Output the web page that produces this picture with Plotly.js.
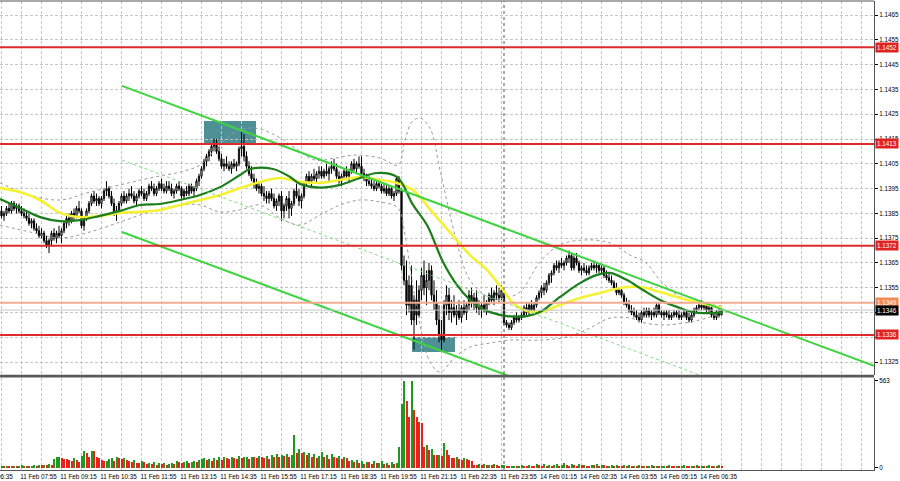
<!DOCTYPE html>
<html><head><meta charset="utf-8">
<script src="https://cdn.plot.ly/plotly-3.0.1.min.js"></script>
<style>html,body{margin:0;padding:0;background:#fff;}#chart{width:900px;height:481px;}</style>
</head><body><div id="chart"></div>
<script>
// ---- EURUSD M5 candles, bars numbered from the first visible bar (-8) to the last (280) ----
const firstBar = -8;
const open = [
1.1386,1.1384,1.1385,1.1387,1.1386,1.1389,1.1387,1.1388,1.1386,1.1385,
1.1384,1.1383,1.1381,1.1382,1.1379,1.1378,1.1376,1.1377,1.1374,1.1372,
1.1374,1.1377,1.1375,1.1377,1.1376,1.1378,1.1381,1.1383,1.1382,1.1385,
1.1384,1.1387,1.1386,1.1380,1.1383,1.1386,1.1389,1.1392,1.1390,1.1391,
1.1389,1.1391,1.1394,1.1395,1.1392,1.1389,1.1385,1.1386,1.1389,1.1392,
1.1390,1.1392,1.1393,1.1392,1.1390,1.1392,1.1394,1.1393,1.1391,1.1393,
1.1396,1.1395,1.1393,1.1395,1.1397,1.1395,1.1394,1.1396,1.1395,1.1393,
1.1394,1.1396,1.1395,1.1392,1.1394,1.1393,1.1396,1.1394,1.1395,1.1398,
1.1400,1.1403,1.1406,1.1408,1.1410,1.1412,1.1413,1.1410,1.1407,1.1404,
1.1405,1.1404,1.1403,1.1405,1.1404,1.1405,1.1411,1.1412,1.1408,1.1404,
1.1401,1.1399,1.1397,1.1395,1.1396,1.1393,1.1392,1.1391,1.1393,1.1391,
1.1388,1.1390,1.1392,1.1386,1.1388,1.1391,1.1387,1.1389,1.1394,1.1392,
1.1390,1.1392,1.1397,1.1400,1.1398,1.1400,1.1399,1.1401,1.1402,1.1400,
1.1402,1.1401,1.1403,1.1404,1.1403,1.1400,1.1398,1.1400,1.1402,1.1400,
1.1402,1.1405,1.1403,1.1405,1.1404,1.1401,1.1399,1.1398,1.1397,1.1396,
1.1395,1.1397,1.1396,1.1394,1.1395,1.1393,1.1395,1.1392,1.1393,1.1399,
1.1394,1.1364,1.1358,1.1348,1.1356,1.1342,1.1350,1.1344,1.1354,1.1360,
1.1355,1.1358,1.1362,1.1352,1.1349,1.1342,1.1336,1.1334,1.1348,1.1352,
1.1345,1.1347,1.1344,1.1346,1.1343,1.1347,1.1345,1.1348,1.1352,1.1349,
1.1351,1.1347,1.1346,1.1348,1.1346,1.1349,1.1352,1.1350,1.1353,1.1352,
1.1351,1.1353,1.1341,1.1340,1.1339,1.1341,1.1343,1.1342,1.1343,1.1344,
1.1347,1.1345,1.1348,1.1346,1.1348,1.1351,1.1353,1.1355,1.1354,1.1357,
1.1360,1.1361,1.1364,1.1363,1.1365,1.1364,1.1365,1.1367,1.1368,1.1363,
1.1367,1.1365,1.1362,1.1363,1.1362,1.1361,1.1363,1.1364,1.1363,1.1364,
1.1362,1.1363,1.1360,1.1359,1.1358,1.1357,1.1355,1.1353,1.1354,1.1352,
1.1349,1.1348,1.1346,1.1345,1.1344,1.1343,1.1342,1.1345,1.1344,1.1346,
1.1344,1.1345,1.1344,1.1348,1.1345,1.1344,1.1345,1.1344,1.1343,1.1344,
1.1345,1.1344,1.1343,1.1344,1.1345,1.1343,1.1342,1.1344,1.1346,1.1347,
1.1348,1.1347,1.1348,1.1346,1.1347,1.1344,1.1343,1.1345,1.1344];
const high = [
1.1388,1.1386,1.1388,1.1389,1.1390,1.1390,1.1389,1.1389,1.1388,1.1387,
1.1386,1.1385,1.1383,1.1383,1.1381,1.1380,1.1379,1.1378,1.1376,1.1375,
1.1378,1.1379,1.1378,1.1380,1.1379,1.1382,1.1384,1.1385,1.1386,1.1387,
1.1388,1.1390,1.1387,1.1384,1.1387,1.1390,1.1393,1.1394,1.1393,1.1392,
1.1392,1.1395,1.1398,1.1396,1.1394,1.1391,1.1388,1.1390,1.1393,1.1394,
1.1393,1.1395,1.1396,1.1394,1.1393,1.1395,1.1396,1.1395,1.1394,1.1397,
1.1398,1.1397,1.1396,1.1398,1.1399,1.1397,1.1398,1.1398,1.1397,1.1395,
1.1397,1.1398,1.1396,1.1395,1.1396,1.1397,1.1397,1.1396,1.1399,1.1401,
1.1404,1.1407,1.1409,1.1411,1.1413,1.1415,1.1415,1.1412,1.1409,1.1407,
1.1408,1.1406,1.1406,1.1407,1.1406,1.1412,1.1418,1.1417,1.1410,1.1406,
1.1404,1.1401,1.1399,1.1398,1.1397,1.1396,1.1394,1.1394,1.1395,1.1393,
1.1391,1.1393,1.1394,1.1389,1.1392,1.1394,1.1390,1.1395,1.1397,1.1395,
1.1393,1.1398,1.1401,1.1402,1.1401,1.1403,1.1402,1.1404,1.1404,1.1403,
1.1405,1.1404,1.1406,1.1407,1.1405,1.1402,1.1401,1.1403,1.1404,1.1403,
1.1406,1.1407,1.1406,1.1408,1.1408,1.1403,1.1401,1.1400,1.1399,1.1398,
1.1398,1.1399,1.1397,1.1397,1.1397,1.1396,1.1396,1.1394,1.1400,1.1400,
1.1395,1.1368,1.1366,1.1360,1.1364,1.1352,1.1358,1.1356,1.1363,1.1366,
1.1362,1.1365,1.1364,1.1358,1.1354,1.1348,1.1342,1.1350,1.1356,1.1355,
1.1350,1.1352,1.1348,1.1350,1.1348,1.1350,1.1349,1.1354,1.1355,1.1353,
1.1354,1.1350,1.1349,1.1352,1.1350,1.1353,1.1355,1.1354,1.1356,1.1355,
1.1356,1.1354,1.1342,1.1341,1.1342,1.1344,1.1345,1.1344,1.1345,1.1348,
1.1349,1.1349,1.1350,1.1349,1.1352,1.1354,1.1356,1.1357,1.1358,1.1361,
1.1362,1.1365,1.1366,1.1366,1.1367,1.1366,1.1368,1.1370,1.1369,1.1368,
1.1369,1.1366,1.1364,1.1365,1.1364,1.1364,1.1365,1.1366,1.1365,1.1365,
1.1364,1.1364,1.1362,1.1361,1.1360,1.1358,1.1357,1.1355,1.1355,1.1353,
1.1351,1.1350,1.1348,1.1347,1.1346,1.1345,1.1346,1.1347,1.1347,1.1347,
1.1346,1.1347,1.1349,1.1349,1.1346,1.1346,1.1346,1.1346,1.1345,1.1346,
1.1346,1.1346,1.1345,1.1346,1.1346,1.1345,1.1345,1.1347,1.1348,1.1349,
1.1350,1.1349,1.1349,1.1348,1.1348,1.1345,1.1346,1.1347,1.1347];
const low = [
1.1383,1.1382,1.1384,1.1385,1.1385,1.1386,1.1385,1.1385,1.1384,1.1383,
1.1382,1.1380,1.1379,1.1378,1.1377,1.1375,1.1375,1.1373,1.1371,1.1369,
1.1372,1.1374,1.1373,1.1375,1.1373,1.1377,1.1379,1.1380,1.1381,1.1382,
1.1383,1.1385,1.1379,1.1378,1.1382,1.1385,1.1388,1.1389,1.1388,1.1388,
1.1387,1.1390,1.1392,1.1391,1.1388,1.1384,1.1382,1.1385,1.1388,1.1389,
1.1389,1.1390,1.1391,1.1389,1.1388,1.1391,1.1392,1.1390,1.1390,1.1392,
1.1394,1.1392,1.1392,1.1394,1.1394,1.1393,1.1393,1.1394,1.1392,1.1391,
1.1393,1.1394,1.1391,1.1391,1.1392,1.1392,1.1393,1.1392,1.1394,1.1396,
1.1399,1.1402,1.1404,1.1406,1.1408,1.1410,1.1409,1.1406,1.1403,1.1402,
1.1403,1.1402,1.1401,1.1403,1.1402,1.1404,1.1408,1.1406,1.1403,1.1400,
1.1398,1.1395,1.1394,1.1393,1.1392,1.1390,1.1389,1.1389,1.1390,1.1387,
1.1386,1.1388,1.1382,1.1383,1.1386,1.1383,1.1384,1.1388,1.1391,1.1388,
1.1387,1.1391,1.1396,1.1397,1.1396,1.1398,1.1397,1.1399,1.1399,1.1399,
1.1400,1.1398,1.1401,1.1402,1.1399,1.1397,1.1396,1.1399,1.1399,1.1398,
1.1401,1.1402,1.1401,1.1403,1.1400,1.1398,1.1396,1.1396,1.1395,1.1394,
1.1394,1.1395,1.1393,1.1393,1.1392,1.1392,1.1391,1.1390,1.1392,1.1393,
1.1362,1.1356,1.1344,1.1345,1.1340,1.1330,1.1340,1.1343,1.1350,1.1352,
1.1348,1.1354,1.1350,1.1346,1.1340,1.1333,1.1330,1.1333,1.1344,1.1342,
1.1341,1.1343,1.1340,1.1342,1.1341,1.1344,1.1342,1.1346,1.1347,1.1346,
1.1345,1.1344,1.1343,1.1345,1.1344,1.1348,1.1349,1.1348,1.1350,1.1349,
1.1350,1.1340,1.1339,1.1338,1.1338,1.1340,1.1341,1.1341,1.1342,1.1343,
1.1344,1.1344,1.1345,1.1344,1.1347,1.1350,1.1351,1.1352,1.1353,1.1356,
1.1357,1.1360,1.1362,1.1361,1.1363,1.1362,1.1364,1.1365,1.1362,1.1362,
1.1364,1.1361,1.1360,1.1361,1.1360,1.1360,1.1362,1.1362,1.1361,1.1361,
1.1361,1.1359,1.1358,1.1357,1.1356,1.1354,1.1352,1.1352,1.1351,1.1348,
1.1347,1.1345,1.1344,1.1343,1.1342,1.1341,1.1341,1.1343,1.1343,1.1343,
1.1342,1.1343,1.1343,1.1344,1.1343,1.1342,1.1343,1.1342,1.1342,1.1343,
1.1343,1.1342,1.1342,1.1343,1.1342,1.1341,1.1341,1.1343,1.1345,1.1346,
1.1346,1.1346,1.1345,1.1345,1.1343,1.1342,1.1342,1.1343,1.1344];
const close = [
1.1384,1.1385,1.1387,1.1386,1.1389,1.1387,1.1388,1.1386,1.1385,1.1384,
1.1383,1.1381,1.1382,1.1379,1.1378,1.1376,1.1377,1.1374,1.1372,1.1374,
1.1377,1.1375,1.1377,1.1376,1.1378,1.1381,1.1383,1.1382,1.1385,1.1384,
1.1387,1.1386,1.1380,1.1383,1.1386,1.1389,1.1392,1.1390,1.1391,1.1389,
1.1391,1.1394,1.1395,1.1392,1.1389,1.1385,1.1386,1.1389,1.1392,1.1390,
1.1392,1.1393,1.1392,1.1390,1.1392,1.1394,1.1393,1.1391,1.1393,1.1396,
1.1395,1.1393,1.1395,1.1397,1.1395,1.1394,1.1396,1.1395,1.1393,1.1394,
1.1396,1.1395,1.1392,1.1394,1.1393,1.1396,1.1394,1.1395,1.1398,1.1400,
1.1403,1.1406,1.1408,1.1410,1.1412,1.1413,1.1410,1.1407,1.1404,1.1405,
1.1404,1.1403,1.1405,1.1404,1.1405,1.1411,1.1412,1.1408,1.1404,1.1401,
1.1399,1.1397,1.1395,1.1396,1.1393,1.1392,1.1391,1.1393,1.1391,1.1388,
1.1390,1.1392,1.1386,1.1388,1.1391,1.1387,1.1389,1.1394,1.1392,1.1390,
1.1392,1.1397,1.1400,1.1398,1.1400,1.1399,1.1401,1.1402,1.1400,1.1402,
1.1401,1.1403,1.1404,1.1403,1.1400,1.1398,1.1400,1.1402,1.1400,1.1402,
1.1405,1.1403,1.1405,1.1404,1.1401,1.1399,1.1398,1.1397,1.1396,1.1395,
1.1397,1.1396,1.1394,1.1395,1.1393,1.1395,1.1392,1.1393,1.1399,1.1394,
1.1364,1.1358,1.1348,1.1356,1.1342,1.1350,1.1344,1.1354,1.1360,1.1355,
1.1358,1.1362,1.1352,1.1349,1.1342,1.1336,1.1334,1.1348,1.1352,1.1345,
1.1347,1.1344,1.1346,1.1343,1.1347,1.1345,1.1348,1.1352,1.1349,1.1351,
1.1347,1.1346,1.1348,1.1346,1.1349,1.1352,1.1350,1.1353,1.1352,1.1351,
1.1354,1.1341,1.1340,1.1339,1.1341,1.1343,1.1342,1.1343,1.1344,1.1347,
1.1345,1.1348,1.1346,1.1348,1.1351,1.1353,1.1355,1.1354,1.1357,1.1360,
1.1361,1.1364,1.1363,1.1365,1.1364,1.1365,1.1367,1.1368,1.1363,1.1367,
1.1365,1.1362,1.1363,1.1362,1.1361,1.1363,1.1364,1.1363,1.1364,1.1362,
1.1363,1.1360,1.1359,1.1358,1.1357,1.1355,1.1353,1.1354,1.1352,1.1349,
1.1348,1.1346,1.1345,1.1344,1.1343,1.1342,1.1345,1.1344,1.1346,1.1344,
1.1345,1.1344,1.1348,1.1345,1.1344,1.1345,1.1344,1.1343,1.1344,1.1345,
1.1344,1.1343,1.1344,1.1345,1.1343,1.1342,1.1344,1.1346,1.1347,1.1348,
1.1347,1.1348,1.1346,1.1347,1.1344,1.1343,1.1345,1.1344,1.1346];
const volume = [
12,10,14,11,9,13,10,12,15,11,14,10,13,16,12,18,15,20,17,22,19,
58,68,72,64,58,53,47,41,64,51,36,75,110,94,72,108,106,68,64,47,41,42,58,62,45,72,64,55,64,48,
40,35,52,30,28,45,38,22,30,25,35,20,28,24,32,18,26,30,22,40,35,28,38,44,30,36,42,34,
48,55,62,50,58,45,60,52,66,48,70,62,55,72,64,58,75,60,68,70,56,72,66,62,78,70,64,74,58,80,
72,86,70,82,76,90,68,84,210,96,
118,92,104,85,96,70,88,62,74,100,66,82,58,90,70,64,78,56,72,60,
44,52,38,48,30,42,26,36,34,22,40,28,32,46,24,30,20,34,26,30,
135,410,563,430,330,560,370,330,295,292,135,148,115,122,85,80,82,78,160,115,85,65,60,70,55,50,62,58,50,45,20,18,25,15,22,18,20,15,24,18,12,16,
20,12,8,10,14,9,12,16,11,8,18,13,10,22,15,12,26,14,19,12,16,24,13,20,28,17,14,22,18,12,
25,16,20,14,11,18,15,22,12,19,16,10,14,20,11,17,13,9,15,12,18,10,14,8,16,11,13,9,12,15,
10,14,8,11,13,9,16,12,10,14,8,12,15,11,9,13,10,17,12,14,9,11,15,10,13,12,16,14];

// ---- time axis labels (bar number of each label) ----
const labelBars = [-16,0,16,32,48,64,80,96,112,128,144,160,176,192,208,224,240,256,272];
const labelText = ["11 Feb 06:35","11 Feb 07:55","11 Feb 09:15","11 Feb 10:35","11 Feb 11:55","11 Feb 13:15",
 "11 Feb 14:35","11 Feb 15:55","11 Feb 17:15","11 Feb 18:35","11 Feb 19:55","11 Feb 21:15","11 Feb 22:35",
 "11 Feb 23:55","14 Feb 01:15","14 Feb 02:35","14 Feb 03:55","14 Feb 05:15","14 Feb 06:35"];
const weekStartBar = 193;

// ---- price scale ticks (1.1335 sits under the 1.1336 level tag) ----
const priceTicks = [1.1325,1.1335,1.1345,1.1355,1.1365,1.1375,1.1385,1.1395,1.1405,1.1415,1.1425,1.1435,1.1445,1.1455,1.1465];
const priceTickText = ["1.1325","","1.1345","1.1355","1.1365","1.1375","1.1385","1.1395","1.1405","1.1415","1.1425","1.1435","1.1445","1.1455","1.1465"];
const volumeTicks = [0,563];

// ---- moving averages (read at sample bars) ----
const maFastBars = [-8.6,-0.6,7.4,15.4,23.4,31.4,39.4,47.4,55.4,63.4,71.4,79.4,87.4,91.4,100.6,107.4,111.4,119.4,127.4,135.4,142.2,150.2,156.6,162.2,168.6,174.2,179.4,183.4,187.4,194.2,202.2,207.4,215.4,223.4,230.2,235.4,242.2,248.6,255.4,262.2,268.6,274.2,280.6];
const maFast = [1.13908,1.13872,1.13835,1.13819,1.13823,1.13840,1.13860,1.13884,1.13888,1.13904,1.13924,1.13956,1.14005,1.14029,1.14029,1.13997,1.13969,1.13954,1.13965,1.13993,1.14013,1.13997,1.13884,1.13803,1.13654,1.13561,1.13501,1.13469,1.13452,1.13436,1.13436,1.13452,1.13513,1.13569,1.13602,1.13610,1.13581,1.13541,1.13501,1.13473,1.13452,1.13448,1.13452];
const maSlowBars = [-8.6,-0.6,7.4,15.4,23.4,31.4,39.4,47.4,55.4,63.4,71.4,79.4,87.4,95.4,103.4,111.4,119.4,127.4,135.4,143.4,150.2,156.6,164.6,172.6,179.4,186.2,191.4,196.6,202.2,207.4,215.4,223.4,231.4,239.4,247.4,255.4,263.4,271.4,280.2];
const maSlow = [1.13952,1.13936,1.13904,1.13852,1.13835,1.13840,1.13852,1.13856,1.13864,1.13884,1.13904,1.13924,1.13952,1.13977,1.13993,1.13977,1.13973,1.13985,1.13997,1.13985,1.13973,1.13944,1.13852,1.13759,1.13682,1.13622,1.13557,1.13489,1.13456,1.13452,1.13481,1.13509,1.13529,1.13549,1.13553,1.13533,1.13509,1.13489,1.13469];

// ---- envelope bands (read at sample bars) ----
const bandUpBars = [-8.6,3.4,15.4,27.4,39.4,51.4,63.4,71.4,77.4,85.4,93.4,101.4,109.4,117.4,125.4,133.4,143.4,150.6,153.4,156.2,159.4,163.4,167.4,173.4,179.4,187.4,193.4,199.4,207.4,215.4,225.4,235.4,243.4,249.4,255.4,263.4,271.4,280.2];
const bandUp = [1.13973,1.13924,1.13904,1.13936,1.13965,1.13993,1.14017,1.14045,1.14106,1.14178,1.14194,1.14166,1.14114,1.14065,1.14073,1.14085,1.14073,1.14045,1.14146,1.14219,1.14235,1.14194,1.14025,1.13763,1.13581,1.13509,1.13509,1.13533,1.13654,1.13723,1.13743,1.13731,1.13682,1.13654,1.13581,1.13513,1.13489,1.13477];
const bandLoBars = [-8.6,3.4,15.4,27.4,39.4,51.4,63.4,71.4,79.4,87.4,95.4,103.4,111.4,119.4,127.4,135.4,143.4,150.6,153.4,156.2,159.4,163.4,167.4,173.4,179.4,187.4,195.4,207.4,218.2,227.4,235.4,243.4,249.4,257.4,267.4,275.4,280.2];
const bandLo = [1.13803,1.13775,1.13751,1.13775,1.13815,1.13856,1.13884,1.13884,1.13856,1.13864,1.13884,1.13831,1.13803,1.13844,1.13884,1.13904,1.13896,1.13872,1.13763,1.13581,1.13400,1.13251,1.13210,1.13271,1.13311,1.13327,1.13339,1.13339,1.13352,1.13388,1.13428,1.13428,1.13408,1.13400,1.13412,1.13432,1.13452];

// ---- descending channel (anchor bars and prices) ----
const channelBars = [40.2, 341];
const channelUpper = [1.14364, 1.13235];
const channelMid = [1.14065, 1.12936];
const channelLower = [1.13775, 1.12646];

// ---- horizontal levels and zones ----
const resistLevels = [1.1452, 1.1413, 1.1372, 1.1336];
const markLevel = 1.1349;
const bidLevel = 1.1346;
const zoneBarsFrom = [73, 156.2], zoneBarsTo = [93.8, 173.4];
const zonePriceLo = [1.14134, 1.13291], zonePriceHi = [1.14223, 1.13352];

// ---------------- build ----------------
const bars = open.map((_, k) => firstBar + k);
const volColors = volume.map((v, k) => (k === 0 || v > volume[k - 1]) ? '#1f9a1f' : '#e8231c');
const xr = [-8.6, 341];
const gridBars = [];
for (let b = -8; b <= 340; b += 8) gridBars.push(b);
const gridText = gridBars.map(b => { const j = labelBars.indexOf(b); return j >= 0 ? labelText[j] : ''; });

const FONT = 'Liberation Sans, Arial, sans-serif';
const traces = [
  {type:'scatter', mode:'lines', x:bandUpBars, y:bandUp, line:{color:'#9a9a9a', width:1, dash:'dot', shape:'spline'}, hoverinfo:'skip'},
  {type:'scatter', mode:'lines', x:bandLoBars, y:bandLo, line:{color:'#9a9a9a', width:1, dash:'dot', shape:'spline'}, hoverinfo:'skip'},
  {type:'candlestick', x:bars, open:open, high:high, low:low, close:close,
   increasing:{line:{color:'#000', width:1}, fillcolor:'#ffffff'},
   decreasing:{line:{color:'#000', width:1}, fillcolor:'#000000'},
   whiskerwidth:0, hoverinfo:'skip', xaxis:'x', yaxis:'y'},
  {type:'scatter', mode:'lines', x:maSlowBars, y:maSlow, line:{color:'#f4f232', width:2.6, shape:'spline'}, hoverinfo:'skip'},
  {type:'scatter', mode:'lines', x:maFastBars, y:maFast, line:{color:'#1b7d1b', width:2.2, shape:'spline'}, hoverinfo:'skip'},
  {type:'scatter', mode:'lines', x:channelBars, y:channelMid, line:{color:'#7fdc7f', width:1, dash:'dot'}, hoverinfo:'skip'},
  {type:'scatter', mode:'lines', x:channelBars, y:channelUpper, line:{color:'#3fd43f', width:2}, hoverinfo:'skip'},
  {type:'scatter', mode:'lines', x:channelBars, y:channelLower, line:{color:'#3fd43f', width:2}, hoverinfo:'skip'},
  {type:'bar', x:bars, y:volume, marker:{color:volColors, line:{width:0}}, width:0.8, xaxis:'x', yaxis:'y2', hoverinfo:'skip'}
];

const shapes = [];
zoneBarsFrom.forEach((b, k) => shapes.push({type:'rect', xref:'x', yref:'y', x0:b, x1:zoneBarsTo[k], y0:zonePriceLo[k], y1:zonePriceHi[k], fillcolor:'#4f9096', line:{width:0}, layer:'below'}));
resistLevels.forEach(p => shapes.push({type:'line', xref:'paper', yref:'y', x0:0, x1:1, y0:p, y1:p, line:{color:'#dd2b2b', width:2}}));
shapes.push({type:'line', xref:'paper', yref:'y', x0:0, x1:1, y0:markLevel, y1:markLevel, line:{color:'#f4ab92', width:2}});
shapes.push({type:'line', xref:'paper', yref:'y', x0:0, x1:1, y0:bidLevel, y1:bidLevel, line:{color:'#c4c4c4', width:1}});
shapes.push({type:'line', xref:'x', yref:'paper', x0:weekStartBar, x1:weekStartBar, y0:0, y1:1, line:{color:'#555', width:1, dash:'dot'}});
shapes.push({type:'line', xref:'paper', yref:'paper', x0:0, x1:1, y0:0.2001, y1:0.2001, line:{color:'#5a5a5a', width:2.6}});
shapes.push({type:'line', xref:'paper', yref:'paper', x0:0, x1:1, y0:1, y1:1, line:{color:'#555', width:1}});

const annotations = [];
const tag = (p, bg) => ({xref:'paper', yref:'y', x:1, y:p, xanchor:'left', yanchor:'middle', xshift:1,
  text:p.toFixed(4), showarrow:false, bgcolor:bg, borderpad:1, font:{family:FONT, size:6.3, color:'#fff'}});
resistLevels.forEach(p => annotations.push(tag(p, '#e02222')));
annotations.push(tag(markLevel, '#f08a55'));
annotations.push(tag(bidLevel, '#000000'));
// first time label: only its tail shows at the left edge
annotations.push({xref:'paper', yref:'paper', x:0, y:0, xanchor:'right', yanchor:'top', xshift:15, yshift:-1,
  text:labelText[0], showarrow:false, font:{family:FONT, size:6.3, color:'#000'}});

const gridStyle = {showgrid:true, gridcolor:'#c6c6c6', gridwidth:1, griddash:'3px,2px'};
const layout = {
  width:900, height:481, margin:{l:0, r:26, t:1, b:11},
  paper_bgcolor:'#fff', plot_bgcolor:'#fff', showlegend:false,
  font:{family:FONT, size:6.3, color:'#000'},
  xaxis:Object.assign({range:xr, anchor:'y2', rangeslider:{visible:false}, tickmode:'array', tickvals:gridBars, ticktext:gridText,
    ticks:'', ticklabelshift:17, tickangle:0, showline:true, linecolor:'#555', linewidth:1, zeroline:false, fixedrange:true,
    tickfont:{family:FONT, size:6.3, color:'#000'}}, gridStyle),
  yaxis:Object.assign({domain:[0.2026, 1], range:[1.131984, 1.147065], side:'right', anchor:'x', tickmode:'array',
    tickvals:priceTicks, ticktext:priceTickText, ticks:'outside', ticklen:3, tickcolor:'#000',
    showline:true, linecolor:'#555', linewidth:1, zeroline:false, fixedrange:true,
    tickfont:{family:FONT, size:6.3, color:'#000'}}, gridStyle),
  yaxis2:{domain:[0, 0.1962], range:[-15, 580], side:'right', anchor:'x', tickmode:'array', tickvals:volumeTicks,
    ticktext:volumeTicks.map(String), ticks:'outside', ticklen:3, tickcolor:'#000', showgrid:false, showline:true,
    linecolor:'#555', linewidth:1, zeroline:false, fixedrange:true, tickfont:{family:FONT, size:6.3, color:'#000'}},
  bargap:0, shapes:shapes, annotations:annotations
};
Plotly.newPlot('chart', traces, layout, {staticPlot:true, displayModeBar:false});
</script></body></html>
